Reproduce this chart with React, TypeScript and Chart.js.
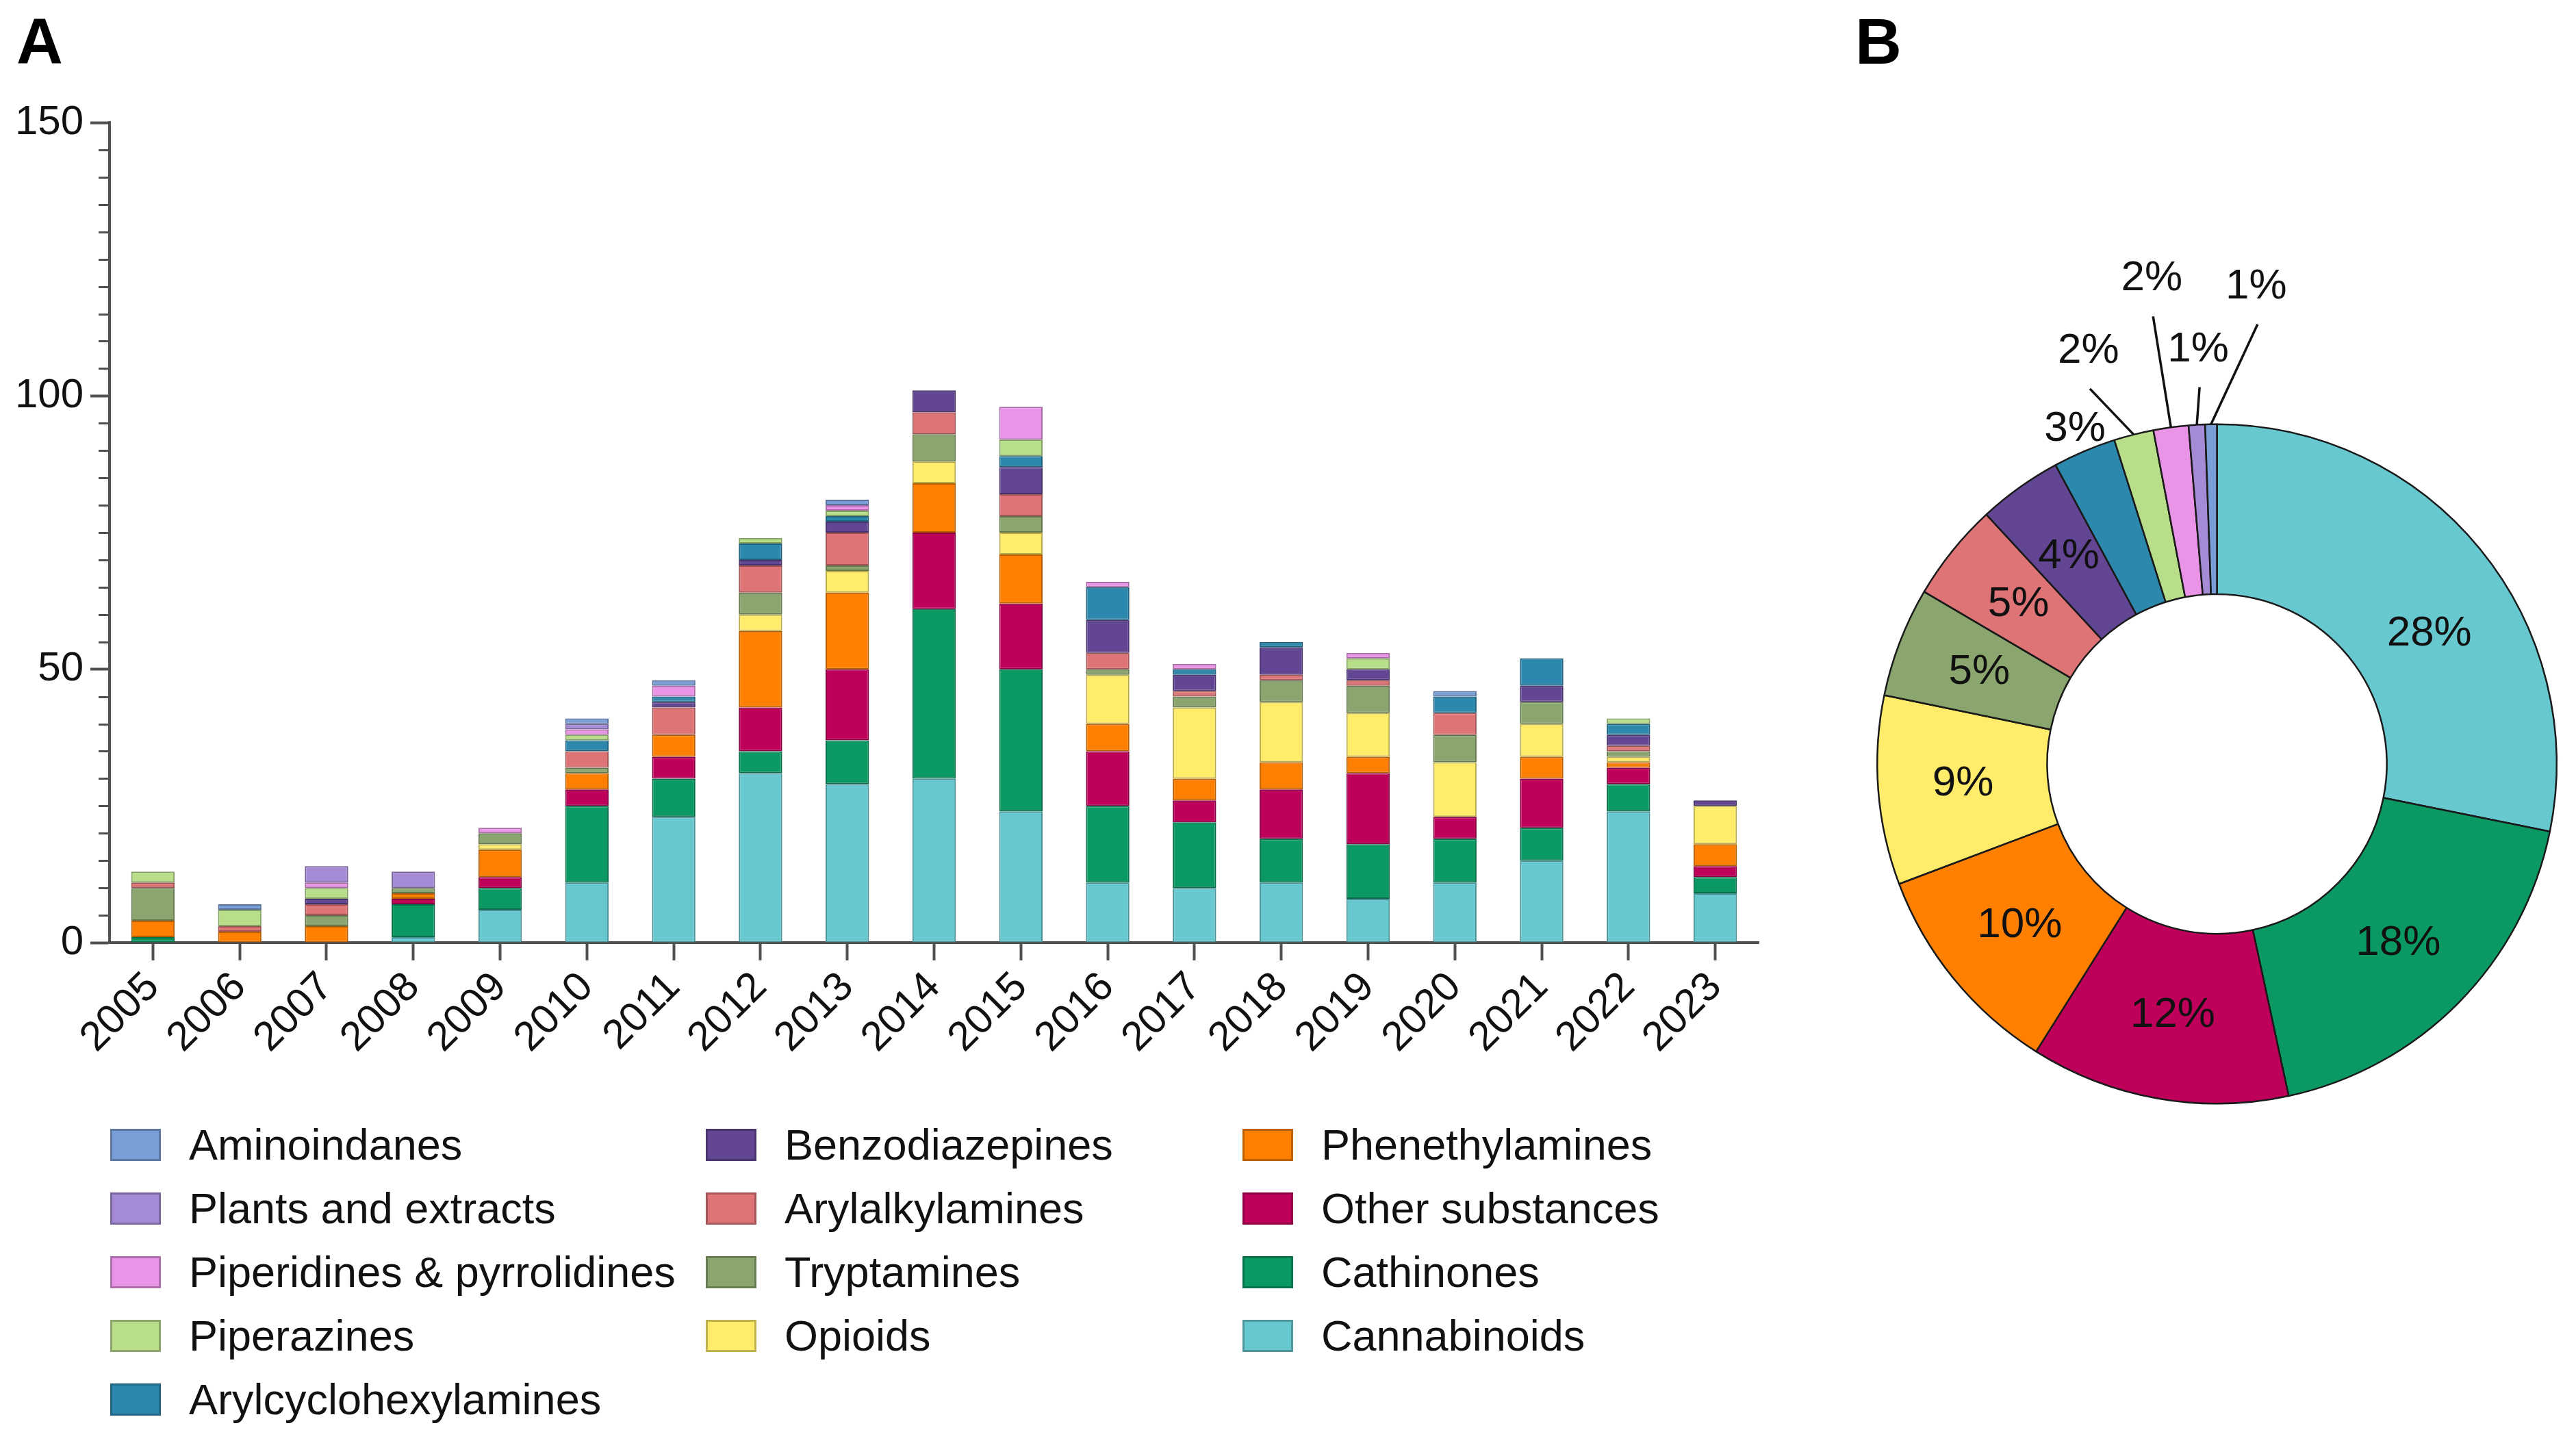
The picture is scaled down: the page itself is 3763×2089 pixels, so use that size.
import React, { useEffect, useRef } from "react";
import { Chart, registerables } from "chart.js";

Chart.register(...registerables);

// ---------------- DATA ----------------
const years = ["2005","2006","2007","2008","2009","2010","2011","2012","2013","2014","2015","2016","2017","2018","2019","2020","2021","2022","2023"];

const cannabinoids         = [0,0,0,1,6,11,23,31,29,30,24,11,10,11,8,11,15,24,9];
const cathinones           = [1,0,0,6,4,14,7,4,8,31,26,14,12,8,10,8,6,5,3];
const otherSubstances      = [0,0,0,1,2,3,4,8,13,14,12,10,4,9,13,4,9,3,2];
const phenethylamines      = [3,2,3,1,5,3,4,14,14,9,9,5,4,5,3,0,4,1,4];
const opioids              = [0,0,0,0,1,0,0,3,4,4,4,9,13,11,8,10,6,1,7];
const tryptamines          = [6,0,2,1,2,1,0,4,1,5,3,1,2,4,5,5,4,1,0];
const arylalkylamines      = [1,1,2,0,0,3,5,5,6,4,4,3,1,1,1,4,0,1,0];
const benzodiazepines      = [0,0,1,0,0,0,1,1,2,4,5,6,3,5,2,0,3,2,1];
const arylcyclohexylamines = [0,0,0,0,0,2,1,3,1,0,2,6,1,1,0,3,5,2,0];
const piperazines          = [2,3,2,0,0,1,0,1,1,0,3,0,0,0,2,0,0,1,0];
const piperidines          = [0,0,1,0,1,1,2,0,1,0,6,1,1,0,1,0,0,0,0];
const plantsExtracts       = [0,0,3,3,0,1,0,0,0,0,0,0,0,0,0,0,0,0,0];
const aminoindanes         = [0,1,0,0,0,1,1,0,1,0,0,0,0,0,0,1,0,0,0];

// panel B: overall share per class (donut, clockwise from top, same order as the stack)
const overallTotals = [254, 166, 111, 93, 81, 47, 42, 36, 27, 17, 15, 7, 5];

const yMin = 0;
const yMax = 150;
const yMajorStep = 50;
const yMinorStep = 5;

// stack order, bottom to top (also donut order, clockwise from top)
const series = [
  { name: "Cannabinoids", data: cannabinoids, color: "#67c8d0" },
  { name: "Cathinones", data: cathinones, color: "#0b9963" },
  { name: "Other substances", data: otherSubstances, color: "#be005b" },
  { name: "Phenethylamines", data: phenethylamines, color: "#ff8000" },
  { name: "Opioids", data: opioids, color: "#ffec6b" },
  { name: "Tryptamines", data: tryptamines, color: "#8aa56d" },
  { name: "Arylalkylamines", data: arylalkylamines, color: "#de7476" },
  { name: "Benzodiazepines", data: benzodiazepines, color: "#624694" },
  { name: "Arylcyclohexylamines", data: arylcyclohexylamines, color: "#2c88ad" },
  { name: "Piperazines", data: piperazines, color: "#b8de8a" },
  { name: "Piperidines & pyrrolidines", data: piperidines, color: "#e994e6" },
  { name: "Plants and extracts", data: plantsExtracts, color: "#a58ad5" },
  { name: "Aminoindanes", data: aminoindanes, color: "#7a9fd8" },
];

// legend columns (names)
const legendCol1 = ["Aminoindanes", "Plants and extracts", "Piperidines & pyrrolidines", "Piperazines", "Arylcyclohexylamines"];
const legendCol2 = ["Benzodiazepines", "Arylalkylamines", "Tryptamines", "Opioids"];
const legendCol3 = ["Phenethylamines", "Other substances", "Cathinones", "Cannabinoids"];

// donut label placement by series name
const donutLeader: Record<string, [number, number]> = {
  "Piperazines": [-64, -67],
  "Piperidines & pyrrolidines": [-26, -162],
  "Plants and extracts": [4, -55],
  "Aminoindanes": [68, -146],
};
const donutEdgeLabels = ["Arylcyclohexylamines"];
const donutInsideNudge: Record<string, [number, number]> = {
  "Cannabinoids": [22, 45],
};

// ---------------- STYLE ----------------
const FONT = '"Liberation Sans", Arial, Helvetica, sans-serif';
const AXIS_COLOR = "#505050";

function darken(hex: string, f: number) {
  const n = parseInt(hex.slice(1), 16);
  const r = Math.round(((n >> 16) & 255) * f);
  const g = Math.round(((n >> 8) & 255) * f);
  const b = Math.round((n & 255) * f);
  return `rgb(${r},${g},${b})`;
}

const minorTickPlugin = {
  id: "minorTicks",
  afterDraw(chart: any) {
    const y = chart.scales.y;
    const ctx = chart.ctx;
    ctx.save();
    ctx.strokeStyle = AXIS_COLOR;
    ctx.lineWidth = 3;
    for (let v = yMin + yMinorStep; v < yMax; v += yMinorStep) {
      if (v % yMajorStep === 0) continue;
      const py = Math.round(y.getPixelForValue(v)) + 0.5;
      ctx.beginPath();
      ctx.moveTo(y.right - 16, py);
      ctx.lineTo(y.right, py);
      ctx.stroke();
    }
    ctx.restore();
  },
};

const donutLabelPlugin = {
  id: "donutLabels",
  afterDatasetsDraw(chart: any) {
    const ctx = chart.ctx;
    const meta = chart.getDatasetMeta(0);
    const data = chart.data.datasets[0].data as number[];
    const names = chart.data.labels as string[];
    const total = data.reduce((a, b) => a + b, 0);
    ctx.save();
    ctx.font = `62px ${FONT}`;
    ctx.fillStyle = "#111";
    ctx.strokeStyle = "#111";
    ctx.lineWidth = 3.5;
    ctx.textAlign = "center";
    ctx.textBaseline = "middle";
    meta.data.forEach((arc: any, i: number) => {
      const p = arc.getProps(["x", "y", "startAngle", "endAngle", "innerRadius", "outerRadius"], true);
      const mid = (p.startAngle + p.endAngle) / 2;
      const txt = Math.round((data[i] / total) * 100) + "%";
      const name = names[i];
      const cos = Math.cos(mid), sin = Math.sin(mid);
      if (donutLeader[name]) {
        const [dx, dy] = donutLeader[name];
        const ex = p.x + cos * p.outerRadius;
        const ey = p.y + sin * p.outerRadius;
        const lx = ex + dx, ly = ey + dy;
        ctx.beginPath();
        ctx.moveTo(ex, ey);
        ctx.lineTo(lx, ly);
        ctx.stroke();
        ctx.fillText(txt, lx - 2, ly - 55);
      } else if (donutEdgeLabels.includes(name)) {
        const r = p.outerRadius + 35;
        ctx.fillText(txt, p.x + cos * r, p.y + sin * r);
      } else {
        const r = (p.innerRadius + p.outerRadius) / 2;
        const [nx, ny] = donutInsideNudge[name] || [0, 0];
        ctx.fillText(txt, p.x + cos * r + nx, p.y + sin * r + ny);
      }
    });
    ctx.restore();
  },
};

const BAR_W = 2620, BAR_H = 1620;
const DONUT_LEFT = 2688, DONUT_TOP = 316, DONUT_W = 1075, DONUT_H = 1600;

export default function App() {
  const barRef = useRef<HTMLCanvasElement | null>(null);
  const donutRef = useRef<HTMLCanvasElement | null>(null);

  useEffect(() => {
    document.body.style.margin = "0";
    const bar = new Chart(barRef.current as HTMLCanvasElement, {
      type: "bar",
      data: {
        labels: years,
        datasets: series.map((s) => ({
          label: s.name,
          data: s.data,
          backgroundColor: s.color,
          borderColor: darken(s.color, 0.72),
          borderWidth: 2,
          borderSkipped: false,
          barPercentage: 0.5,
          categoryPercentage: 1.0,
        })),
      },
      options: {
        responsive: false,
        animation: false,
        layout: { padding: { left: 0, right: 51, top: 179, bottom: 0 } },
        plugins: { legend: { display: false }, tooltip: { enabled: false } },
        scales: {
          x: {
            stacked: true,
            offset: true,
            grid: {
              display: true,
              drawOnChartArea: false,
              drawTicks: true,
              tickLength: 26,
              tickWidth: 4,
              tickColor: AXIS_COLOR,
              offset: false,
            },
            border: { display: true, color: AXIS_COLOR, width: 4 },
            ticks: {
              font: { size: 60, family: FONT },
              color: "#111",
              maxRotation: 45,
              minRotation: 45,
              padding: 4,
              autoSkip: false,
            },
            afterFit: (s: any) => {
              s.height = 243;
            },
          },
          y: {
            stacked: true,
            min: yMin,
            max: yMax,
            ticks: {
              stepSize: yMajorStep,
              font: { size: 60, family: FONT },
              color: "#111",
              padding: 10,
            },
            grid: {
              display: true,
              drawOnChartArea: false,
              drawTicks: true,
              tickLength: 28,
              tickWidth: 4,
              tickColor: AXIS_COLOR,
            },
            border: { display: true, color: AXIS_COLOR, width: 4 },
            afterFit: (s: any) => {
              s.width = 160;
            },
          },
        },
      } as any,
      plugins: [minorTickPlugin],
    });

    const donut = new Chart(donutRef.current as HTMLCanvasElement, {
      type: "doughnut",
      data: {
        labels: series.map((s) => s.name),
        datasets: [
          {
            data: overallTotals,
            backgroundColor: series.map((s) => s.color),
            borderColor: "#1a1a1a",
            borderWidth: 2.5,
          },
        ],
      },
      options: {
        responsive: false,
        animation: false,
        cutout: "50%",
        layout: { padding: { left: 53, right: 27, top: 302, bottom: 302 } },
        plugins: { legend: { display: false }, tooltip: { enabled: false } },
      } as any,
      plugins: [donutLabelPlugin],
    });

    return () => {
      bar.destroy();
      donut.destroy();
    };
  }, []);

  const colorOf = (name: string) => series.find((s) => s.name === name)!.color;
  const legendCols = [legendCol1, legendCol2, legendCol3];
  const colX = [161, 1031, 1815];
  const rowY0 = 1673;
  const rowStep = 93;

  return (
    <div
      style={{
        position: "absolute",
        left: 0,
        top: 0,
        width: 3763,
        height: 2089,
        background: "#fff",
        overflow: "hidden",
        fontFamily: FONT,
      }}
    >
      <div style={{ position: "absolute", left: 24, top: 14, fontSize: 94, fontWeight: 700, lineHeight: "94px", color: "#000" }}>A</div>
      <div style={{ position: "absolute", left: 2710, top: 14, fontSize: 94, fontWeight: 700, lineHeight: "94px", color: "#000" }}>B</div>
      <canvas
        ref={barRef}
        width={BAR_W}
        height={BAR_H}
        style={{ position: "absolute", left: 0, top: 0, width: BAR_W, height: BAR_H }}
      />
      <canvas
        ref={donutRef}
        width={DONUT_W}
        height={DONUT_H}
        style={{ position: "absolute", left: DONUT_LEFT, top: DONUT_TOP, width: DONUT_W, height: DONUT_H }}
      />
      {legendCols.map((col, ci) =>
        col.map((name, ri) => (
          <div
            key={name}
            style={{
              position: "absolute",
              left: colX[ci],
              top: rowY0 + ri * rowStep - 24,
              height: 47,
              display: "flex",
              alignItems: "center",
            }}
          >
            <div
              style={{
                width: 74,
                height: 47,
                boxSizing: "border-box",
                background: colorOf(name),
                border: `3px solid ${darken(colorOf(name), 0.75)}`,
              }}
            />
            <span style={{ marginLeft: 41, fontSize: 63, lineHeight: "47px", color: "#111", whiteSpace: "nowrap" }}>{name}</span>
          </div>
        ))
      )}
    </div>
  );
}
